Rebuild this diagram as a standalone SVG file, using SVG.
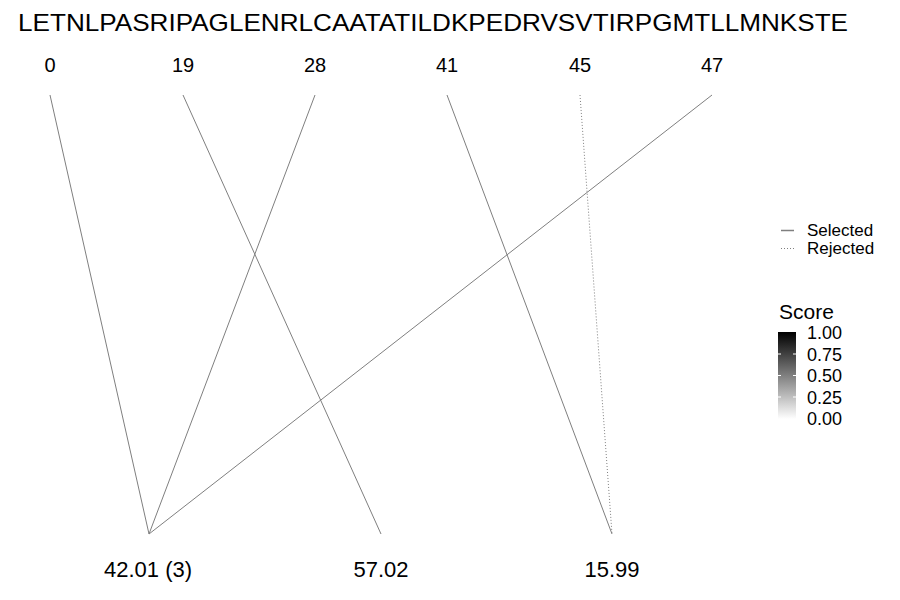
<svg xmlns="http://www.w3.org/2000/svg" width="900" height="600" viewBox="0 0 900 600">
<defs>
<linearGradient id="g" x1="0" y1="1" x2="0" y2="0">
<stop offset="0" stop-color="#ffffff"/>
<stop offset="1" stop-color="#000000"/>
</linearGradient>
<style>
text{font-family:"Liberation Sans",Arial,sans-serif;fill:#000}
.t{font-size:24px}
.n{font-size:20px;text-anchor:middle}
.b{font-size:22px;text-anchor:middle}
.l{font-size:18px}
.k{font-size:17px}
.c{stroke:#7f7f7f;stroke-width:1;fill:none}
.d{stroke-dasharray:1 2}
</style>
</defs>
<rect width="900" height="600" fill="#fff"/>
<text class="t" x="18" y="31" textLength="830" lengthAdjust="spacingAndGlyphs">LETNLPASRIPAGLENRLCAATATILDKPEDRVSVTIRPGMTLLMNKSTE</text>
<g id="top-nodes">
<g id="n0"><text class="n" x="50" y="72">0</text></g>
<g id="n19"><text class="n" x="183" y="72">19</text></g>
<g id="n28"><text class="n" x="315" y="72">28</text></g>
<g id="n41"><text class="n" x="447" y="72">41</text></g>
<g id="n45"><text class="n" x="580" y="72">45</text></g>
<g id="n47"><text class="n" x="712" y="72">47</text></g>
</g>
<g id="bottom-nodes">
<g id="b1"><text class="b" x="148" y="577">42.01 (3)</text></g>
<g id="b2"><text class="b" x="381" y="577">57.02</text></g>
<g id="b3"><text class="b" x="612" y="577">15.99</text></g>
</g>
<g id="connectors">
<line class="c" x1="50" y1="95" x2="149" y2="534"/>
<line class="c" x1="183" y1="95" x2="381" y2="534"/>
<line class="c" x1="315" y1="95" x2="149" y2="534"/>
<line class="c" x1="447" y1="95" x2="612" y2="534"/>
<line class="c d" x1="580" y1="95" x2="612" y2="534"/>
<line class="c" x1="712" y1="95" x2="149" y2="534"/>
</g>
<g id="legend">
<line x1="781" y1="230.5" x2="794" y2="230.5" stroke="#7f7f7f" stroke-width="1.5"/>
<text class="k" x="807" y="236">Selected</text>
<line class="c d" x1="781" y1="248.5" x2="794" y2="248.5"/>
<text class="k" x="807" y="254">Rejected</text>
<text x="779" y="319" style="font-size:21px">Score</text>
<rect x="778" y="332" width="18" height="87" fill="url(#g)"/>
<g stroke="#fff" stroke-width="1">
<line x1="778" y1="354" x2="781" y2="354"/><line x1="793" y1="354" x2="796" y2="354"/>
<line x1="778" y1="375.5" x2="781" y2="375.5"/><line x1="793" y1="375.5" x2="796" y2="375.5"/>
<line x1="778" y1="397" x2="781" y2="397"/><line x1="793" y1="397" x2="796" y2="397"/>
</g>
<text class="l" x="807" y="339">1.00</text>
<text class="l" x="807" y="360.5">0.75</text>
<text class="l" x="807" y="382">0.50</text>
<text class="l" x="807" y="403.5">0.25</text>
<text class="l" x="807" y="425">0.00</text>
</g>
</svg>
